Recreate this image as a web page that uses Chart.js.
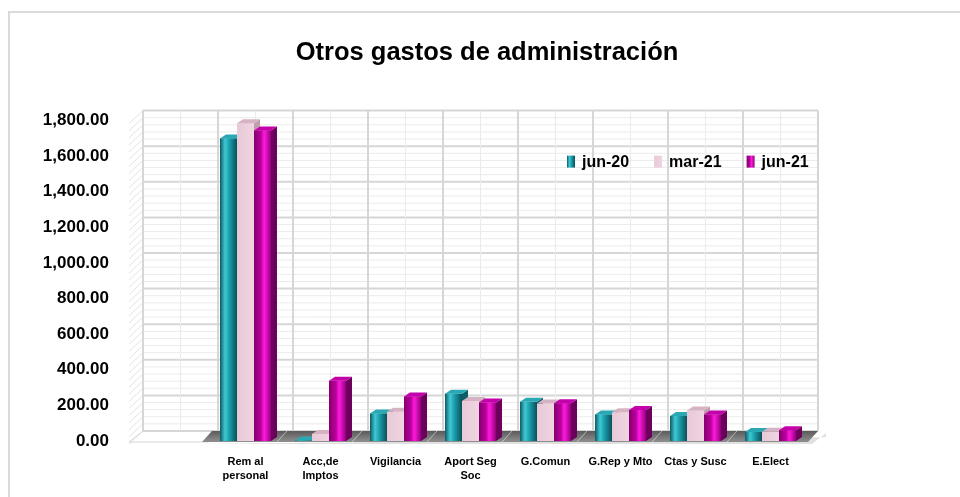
<!DOCTYPE html>
<html>
<head>
<meta charset="utf-8">
<title>Otros gastos de administración</title>
<script src="https://cdn.jsdelivr.net/npm/chart.js@4.4.0/dist/chart.umd.min.js"></script>
<style>
    html, body { margin: 0; padding: 0; background: #fff; }
    #marco { position: absolute; left: 8px; top: 11px; width: 1000px; height: 600px;
             border-top: 2px solid #d9d9d9; border-left: 2px solid #d9d9d9; }
    #caja { position: absolute; left: 0; top: 0; width: 960px; height: 497px; }
</style>
</head>
<body>
<div id="marco"></div>
<div id="caja"><canvas id="grafico"></canvas></div>
<script>
// Datos
const categorias = ["", ["Rem al", "personal"], ["Acc,de", "Imptos"], "Vigilancia", ["Aport Seg", "Soc"],
    "G.Comun", "G.Rep y Mto", "Ctas y Susc", "E.Elect"];
const series = ["jun-20", "mar-21", "jun-21"];
const jun20 = [null, 1700, 3, 155, 266, 220, 149, 140, 50];
const mar21 = [null, 1785, 40, 164, 225, 210, 162, 172, 52];
const jun21 = [null, 1745, 338, 250, 216, 212, 174, 149, 61];
const ticksY = [0, 200, 400, 600, 800, 1000, 1200, 1400, 1600, 1800];

const fuente = "'Liberation Sans', Arial, sans-serif";

// colores de cada serie: cara frontal (degradado), tapa y lateral
function caraFrontal(ctx, i, x0, x1) {
    const g = ctx.createLinearGradient(x0, 0, x1, 0);
    if (i === 0) {
        g.addColorStop(0, "#0b5a64");
        g.addColorStop(0.3, "#42c9d4");
        g.addColorStop(0.55, "#1a9fac");
        g.addColorStop(1, "#0a4f58");
    } else if (i === 1) {
        g.addColorStop(0, "#e8c9d7");
        g.addColorStop(1, "#efd5e1");
    } else {
        g.addColorStop(0, "#86006f");
        g.addColorStop(0.4, "#b8009a");
        g.addColorStop(0.6, "#ff1ade");
        g.addColorStop(1, "#92007c");
    }
    return g;
}
const tapas = ["#2aa8b4", "#d6b3c3", "#c400aa"];
const laterales = ["#0c5f69", "#c29dad", "#6c005c"];

// pared del fondo, pared lateral y suelo (al estilo 3D)
const fondo3d = {
    id: "fondo3d",
    beforeDatasetsDraw(chart) {
        const { ctx, scales: { x, y } } = chart;
        const dx = 10, dy = -10;
        const catW = (x.right - x.left) / categorias.length;
        ctx.save();
        // lineas horizontales y pared lateral
        for (let v = 0; v <= ticksY[ticksY.length - 1]; v += 40) {
            const py = y.getPixelForValue(v) + dy;
            const mayor = ticksY.includes(v);
            ctx.strokeStyle = mayor ? "#d6d6d6" : "#ebebeb";
            ctx.lineWidth = mayor ? 2 : 1;
            ctx.beginPath();
            ctx.moveTo(x.left + dx, py);
            ctx.lineTo(x.right + dx, py);
            ctx.stroke();
            ctx.strokeStyle = "#e2e2e2";
            ctx.lineWidth = 1;
            ctx.beginPath();
            ctx.moveTo(x.left - 4, py - dy + 3);
            ctx.lineTo(x.left + dx, py);
            ctx.stroke();
        }
        // lineas verticales
        for (let i = 0; i <= categorias.length * 2; i++) {
            const px = x.left + i * catW / 2 + dx;
            ctx.strokeStyle = i % 2 === 0 ? "#d6d6d6" : "#ebebeb";
            ctx.lineWidth = i % 2 === 0 ? 2 : 1;
            ctx.beginPath();
            ctx.moveTo(px, y.getPixelForValue(ticksY[ticksY.length - 1]) + dy);
            ctx.lineTo(px, y.getPixelForValue(0) + dy);
            ctx.stroke();
        }
        // suelo
        const y0 = y.getPixelForValue(0);
        ctx.strokeStyle = "#d6d6d6";
        ctx.lineWidth = 1;
        ctx.beginPath();
        ctx.moveTo(x.left - 4, y0 + 1);
        ctx.lineTo(x.left + catW, y0 + 1);
        ctx.lineTo(x.left + catW + dx, y0 + dy);
        ctx.lineTo(x.left + dx, y0 + dy);
        ctx.closePath();
        ctx.stroke();
        // sombra del suelo
        ctx.fillStyle = "rgba(0,0,0,0.12)";
        ctx.beginPath();
        ctx.moveTo(x.left + catW - 8, y0 + 3);
        ctx.lineTo(x.right + 4, y0 + 3);
        ctx.lineTo(x.right + dx + 8, y0 + dy + 2);
        ctx.lineTo(x.right + dx + 8, y0 + dy + 6);
        ctx.closePath();
        ctx.fill();
        const gs = ctx.createLinearGradient(0, y0 + dy, 0, y0);
        gs.addColorStop(0, "#5a5a5a");
        gs.addColorStop(1, "#8c8c8c");
        ctx.fillStyle = gs;
        ctx.beginPath();
        ctx.moveTo(x.left + catW - 6, y0 + 1);
        ctx.lineTo(x.right, y0 + 1);
        ctx.lineTo(x.right + dx, y0 + dy);
        ctx.lineTo(x.left + catW + dx - 6, y0 + dy);
        ctx.closePath();
        ctx.fill();
        ctx.strokeStyle = "rgba(255,255,255,0.5)";
        for (let i = 2; i < categorias.length; i++) {
            const px = x.left + i * catW;
            ctx.beginPath();
            ctx.moveTo(px - 6, y0 + 1);
            ctx.lineTo(px + dx - 6, y0 + dy);
            ctx.stroke();
        }
        ctx.restore();
    }
};

// barras con tapa y lateral, dibujadas de izquierda a derecha
const barras3d = {
    id: "barras3d",
    afterDatasetsDraw(chart) {
        const ctx = chart.ctx;
        const d = 6, h = 4;
        ctx.save();
        for (let c = 0; c < categorias.length; c++) {
            for (let s = 0; s < series.length; s++) {
                const el = chart.getDatasetMeta(s).data[c];
                if (!el || chart.data.datasets[s].data[c] == null) continue;
                const { x, y, base, width } = el.getProps(["x", "y", "base", "width"], true);
                const x0 = x - width / 2, x1 = x + width / 2;
                ctx.fillStyle = caraFrontal(ctx, s, x0, x1);
                ctx.fillRect(x0, y, width, base - y);
                ctx.fillStyle = laterales[s];
                ctx.beginPath();
                ctx.moveTo(x1, y);
                ctx.lineTo(x1 + d, y - h);
                ctx.lineTo(x1 + d, base - h);
                ctx.lineTo(x1, base);
                ctx.closePath();
                ctx.fill();
                ctx.fillStyle = tapas[s];
                ctx.beginPath();
                ctx.moveTo(x0, y);
                ctx.lineTo(x1, y);
                ctx.lineTo(x1 + d, y - h);
                ctx.lineTo(x0 + d, y - h);
                ctx.closePath();
                ctx.fill();
            }
        }
        ctx.restore();
    }
};

// leyenda dentro del area del grafico
const leyenda = {
    id: "leyenda",
    afterDraw(chart) {
        const { ctx, chartArea: a } = chart;
        let px = a.right - 241;
        const cy = a.top + 41;
        ctx.save();
        ctx.font = "bold 16px " + fuente;
        ctx.textBaseline = "middle";
        series.forEach((nombre, i) => {
            ctx.fillStyle = caraFrontal(ctx, i, px, px + 8);
            ctx.fillRect(px, cy - 6, 8, 12);
            ctx.fillStyle = "#000";
            ctx.fillText(nombre, px + 15, cy + 1);
            px += 15 + ctx.measureText(nombre).width + 25;
        });
        ctx.restore();
    }
};

const ctx = document.getElementById("grafico").getContext("2d");
new Chart(ctx, {
    type: "bar",
    data: {
        labels: categorias,
        datasets: [
            { label: series[0], data: jun20, backgroundColor: "#1a9fac" },
            { label: series[1], data: mar21, backgroundColor: "#ecd0dd" },
            { label: series[2], data: jun21, backgroundColor: "#c000a0" }
        ]
    },
    options: {
        responsive: true,
        maintainAspectRatio: false,
        animation: false,
        layout: { padding: { top: 10, right: 0, bottom: 0, left: 14 } },
        datasets: { bar: { categoryPercentage: 0.68, barPercentage: 1 } },
        scales: {
            x: {
                grid: { display: false, drawTicks: false },
                border: { display: false },
                afterFit(scale) { scale.height = 56; },
                ticks: {
                    autoSkip: false, maxRotation: 0, padding: 13, color: "#000",
                    font: { family: fuente, size: 11, weight: "bold", lineHeight: 1.36 }
                }
            },
            y: {
                min: 0, max: 1800,
                grid: { display: false, drawTicks: false },
                border: { display: false },
                afterFit(scale) { scale.width = 119; },
                afterBuildTicks(scale) { scale.ticks = ticksY.map(v => ({ value: v })); },
                ticks: {
                    padding: 24, color: "#000",
                    font: { family: fuente, size: 17, weight: "bold" },
                    callback: v => v.toLocaleString("en-US", { minimumFractionDigits: 2, maximumFractionDigits: 2 })
                }
            },
            // eje vacio a la derecha: deja sitio libre como en el original
            margen: {
                position: "right", min: 0, max: 1800,
                grid: { display: false, drawTicks: false },
                border: { display: false },
                ticks: { display: false },
                afterFit(scale) { scale.width = 152; }
            }
        },
        plugins: {
            legend: { display: false },
            tooltip: { enabled: false },
            title: {
                display: true,
                text: "Otros gastos de administración",
                color: "#000",
                font: { family: fuente, size: 25.5, weight: "bold" },
                padding: { top: 28, bottom: 52 }
            }
        }
    },
    plugins: [fondo3d, barras3d, leyenda]
});
</script>
</body>
</html>
